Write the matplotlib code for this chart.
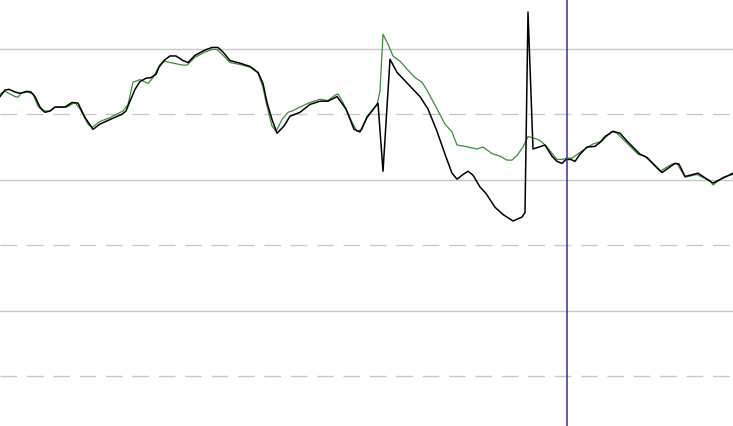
import matplotlib
matplotlib.use('Agg')
import matplotlib.pyplot as plt

# series (x = sample position, y = value)
black_x = [0, 5, 9, 15, 20, 27, 31, 35, 40, 45, 50, 55, 65, 72, 78, 85, 93, 100, 110, 122,
           126, 130, 135, 140, 146, 151, 156, 159, 164, 170, 176, 183, 188, 195, 205, 212, 218, 223, 230, 240,
           250, 258, 263, 267, 272, 277, 284, 290, 300, 310, 320, 328, 337, 346, 354, 360, 367, 378, 383, 390,
           397, 410, 420, 428, 437, 445, 452, 457, 463, 468, 473, 480, 486, 495, 503, 513, 522, 525, 528, 533,
           545, 552, 557, 562, 566, 571, 575, 580, 587, 595, 600, 605, 613, 620, 627, 640, 647, 662, 675, 679,
           685, 698, 713, 725, 733]
black_y = [22.7, 23.7, 23.8, 23.4, 23.2, 23.5, 23.4, 22.7, 21.1, 20.3, 20.5, 21.1, 21.1, 21.8, 21.7, 19.5, 17.7, 18.5, 19.2, 20.0,
           20.5, 22.0, 23.8, 25.0, 25.5, 25.6, 26.1, 27.2, 28.2, 28.9, 28.9, 28.2, 27.9, 29.0, 29.8, 30.2, 30.2, 29.5, 28.2, 27.8,
           27.3, 26.4, 24.7, 21.8, 19.2, 17.1, 18.2, 19.7, 20.3, 21.5, 22.0, 22.0, 22.7, 20.8, 17.7, 17.3, 19.5, 21.7, 11.3, 28.4,
           26.4, 24.3, 22.7, 20.8, 17.4, 13.9, 11.0, 10.1, 10.8, 11.3, 10.7, 8.9, 7.9, 5.8, 4.7, 3.7, 4.3, 5.0, 35.6, 14.7,
           15.3, 13.6, 12.8, 12.5, 13.1, 13.1, 12.8, 13.9, 15.0, 15.1, 15.7, 16.6, 17.4, 17.1, 15.9, 13.9, 13.4, 11.1, 12.5, 12.4,
           10.5, 11.0, 9.5, 10.4, 11.0]

green_x = [0, 5, 15, 18, 21, 27, 33, 38, 43, 50, 55, 67, 75, 80, 88, 92, 100, 110, 123, 128,
           133, 140, 148, 153, 160, 165, 170, 183, 187, 195, 205, 212, 217, 225, 230, 240, 250, 258, 263, 267,
           272, 276, 282, 288, 292, 300, 310, 320, 328, 335, 338, 343, 352, 357, 362, 367, 377, 380, 383, 388,
           393, 400, 407, 415, 422, 428, 435, 445, 452, 457, 465, 477, 483, 492, 500, 507, 512, 517, 523, 528,
           535, 540, 547, 557, 562, 567, 572, 582, 592, 602, 612, 617, 625, 638, 645, 660, 672, 677, 685, 697,
           710, 713, 723, 733]
green_y = [23.1, 23.5, 22.7, 22.6, 23.2, 23.4, 23.1, 21.2, 20.5, 20.5, 21.1, 21.1, 21.8, 20.8, 18.5, 18.0, 18.9, 19.5, 20.5, 21.5,
           24.9, 25.3, 24.7, 25.6, 27.6, 28.1, 27.9, 27.5, 27.5, 28.7, 29.5, 29.9, 29.9, 28.7, 27.9, 27.6, 27.2, 26.3, 24.1, 21.2,
           18.2, 17.4, 19.2, 20.3, 20.5, 21.1, 21.8, 22.3, 22.1, 22.9, 23.1, 21.8, 18.8, 17.4, 17.7, 19.7, 21.5, 23.5, 32.2, 30.7,
           28.9, 28.1, 26.9, 25.6, 24.9, 23.4, 21.4, 18.5, 17.3, 15.3, 15.1, 14.7, 15.0, 14.0, 13.6, 13.0, 13.0, 13.7, 15.0, 16.6,
           16.3, 16.0, 15.0, 13.1, 13.1, 13.3, 13.3, 14.4, 15.4, 15.9, 17.4, 17.1, 15.9, 13.9, 13.6, 11.3, 12.4, 12.5, 10.4, 10.8,
           9.8, 9.2, 10.4, 10.8]

solid_levels = [30, 10, -10]
dashed_levels = [20, 0, -20]
marker_x = 567

fig = plt.figure(figsize=(7.33, 4.27), dpi=100)
ax = fig.add_axes([0, 0, 1, 1])
ax.set_xlim(0, 733)
ax.set_ylim(-27.6, 37.6)
ax.axis('off')

for lv in solid_levels:
    ax.axhline(lv, color='#c8c8c8', lw=1.0, zorder=1)
for lv in dashed_levels:
    ax.axhline(lv, color='#c8c8c8', lw=1.0, dashes=(12, 7), zorder=1)

ax.plot(green_x, green_y, color='#3d8a3d', lw=0.9, zorder=2)
ax.plot(black_x, black_y, color='black', lw=1.1, zorder=3)
ax.axvline(marker_x, color='#34348c', lw=1.1, zorder=4)

fig.savefig('out.png', dpi=100)
